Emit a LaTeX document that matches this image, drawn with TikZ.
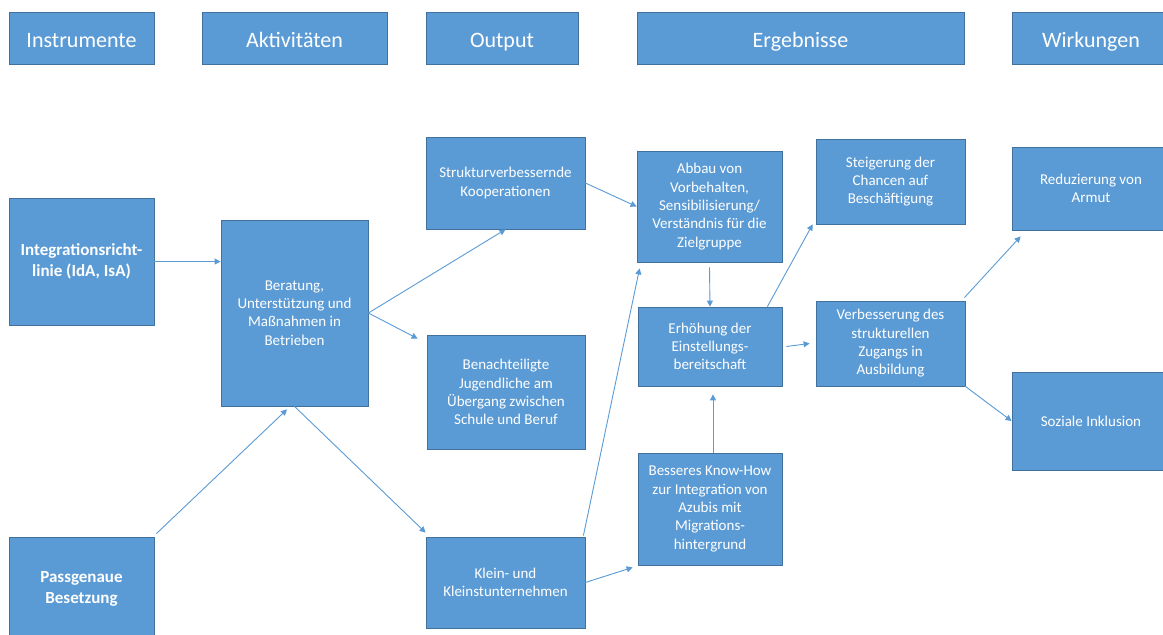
\documentclass[tikz,border=0pt]{standalone}
\usepackage{fontspec}
\setmainfont{Carlito}
\usetikzlibrary{arrows.meta}
\definecolor{boxfill}{HTML}{5B9BD5}
\definecolor{boxline}{HTML}{41719C}
\begin{document}
\begin{tikzpicture}[x=1pt, y=-1pt,
  box/.style={draw=boxline, fill=boxfill, text=white, line width=0.8pt, align=center, inner sep=0pt},
  headbox/.style={box, minimum height=52pt, text height=20pt, text depth=2pt, font={\fontsize{22}{26}\selectfont}},
  txtbox/.style={box, font={\fontsize{15}{18.3}\selectfont}},
  instbox/.style={box, font={\fontsize{17}{21}\selectfont\bfseries}},
  flow/.style={draw=boxfill, line width=0.9pt, -{Triangle[length=6pt,width=6pt]}}] % {{{
\useasboundingbox (0,0) rectangle (1163,635);
\fill[white] (0,0) rectangle (1163,635);
% header row
\node[headbox, minimum width=145pt] (hinst) at (81.5,38) {Instrumente};
\node[headbox, minimum width=185pt] (hakt) at (294.5,38) {Aktivitäten};
\node[headbox, minimum width=152pt] (hout) at (502,38) {Output};
\node[headbox, minimum width=327pt] (herg) at (800.5,38) {Ergebnisse};
\node[headbox, minimum width=158pt] (hwirk) at (1091,38) {Wirkungen};
% Instrumente
\node[instbox, minimum width=145pt, minimum height=127pt] (integ) at (81.5,261.5) {Integrationsricht-\\linie (IdA, IsA)};
\node[instbox, minimum width=145pt, minimum height=103pt] (pass) at (81.5,588.5) {Passgenaue\\Besetzung};
% Aktivitaeten
\node[txtbox, minimum width=147pt, minimum height=186pt] (berat) at (294.5,313) {Beratung,\\Unterstützung und\\Maßnahmen in\\Betrieben};
% Output
\node[txtbox, minimum width=159pt, minimum height=92pt] (struk) at (505.5,183) {Strukturverbessernde\\Kooperationen};
\node[txtbox, minimum width=158pt, minimum height=114pt] (benach) at (506,392) {Benachteiligte\\Jugendliche am\\Übergang zwischen\\Schule und Beruf};
\node[txtbox, minimum width=159pt, minimum height=91pt] (klein) at (505.5,582.5) {Klein- und\\Kleinstunternehmen};
% Ergebnisse
\node[txtbox, minimum width=145pt, minimum height=111pt] (abbau) at (709.5,206.5) {Abbau von\\Vorbehalten,\\Sensibilisierung/\\Verständnis für die\\Zielgruppe};
\node[txtbox, minimum width=144pt, minimum height=79pt] (erhoeh) at (710,346.5) {Erhöhung der\\Einstellungs-\\bereitschaft};
\node[txtbox, minimum width=144pt, minimum height=112pt] (besser) at (710,509) {Besseres Know-How\\zur Integration von\\Azubis mit\\Migrations-\\hintergrund};
\node[txtbox, minimum width=149pt, minimum height=85pt] (steig) at (890.5,181.5) {Steigerung der\\Chancen auf\\Beschäftigung};
\node[txtbox, minimum width=149pt, minimum height=85pt] (verbess) at (890.5,343.5) {Verbesserung des\\strukturellen\\Zugangs in\\Ausbildung};
% Wirkungen
\node[txtbox, minimum width=158pt, minimum height=83pt] (reduz) at (1091,188.5) {Reduzierung von\\Armut};
\node[txtbox, minimum width=158pt, minimum height=98pt] (sozial) at (1091,421) {Soziale Inklusion};
% arrows
\draw[flow] (integ.east) -- (integ.east -| berat.west);
\draw[flow] ([xshift=2pt,yshift=3pt]pass.north east) -- ([xshift=-7.5pt,yshift=-3pt]berat.south);
\draw[flow] (berat.east) -- (struk.south);
\draw[flow] (berat.east) -- ([xshift=-9pt,yshift=-4pt]benach.north west);
\draw[flow] (berat.south) -- ([yshift=4pt]klein.north west);
\draw[flow] ([xshift=-2pt,yshift=1pt]klein.north east) -- ([xshift=3pt,yshift=-6pt]abbau.south west);
\draw[flow] (klein.east) -- ([xshift=-5pt,yshift=-2pt]besser.south west);
\draw[flow] (struk.east) -- (abbau.west);
\draw[flow] ([yshift=-5pt]abbau.south) -- (erhoeh.north);
\draw[flow] ([xshift=3pt]besser.north) -- ([xshift=3pt,yshift=-8pt]erhoeh.south);
\draw[flow] ([xshift=4pt]erhoeh.east) -- ([xshift=-6pt]verbess.west);
\draw[flow] ([xshift=-15pt]erhoeh.north east) -- ([xshift=-3pt]steig.south west);
\draw[flow] ([xshift=-1pt,yshift=3pt]verbess.north east) -- ([xshift=9pt,yshift=-6pt]reduz.south west);
\draw[flow] (verbess.south east) -- (sozial.west);
% }}}
\end{tikzpicture}
\end{document}
